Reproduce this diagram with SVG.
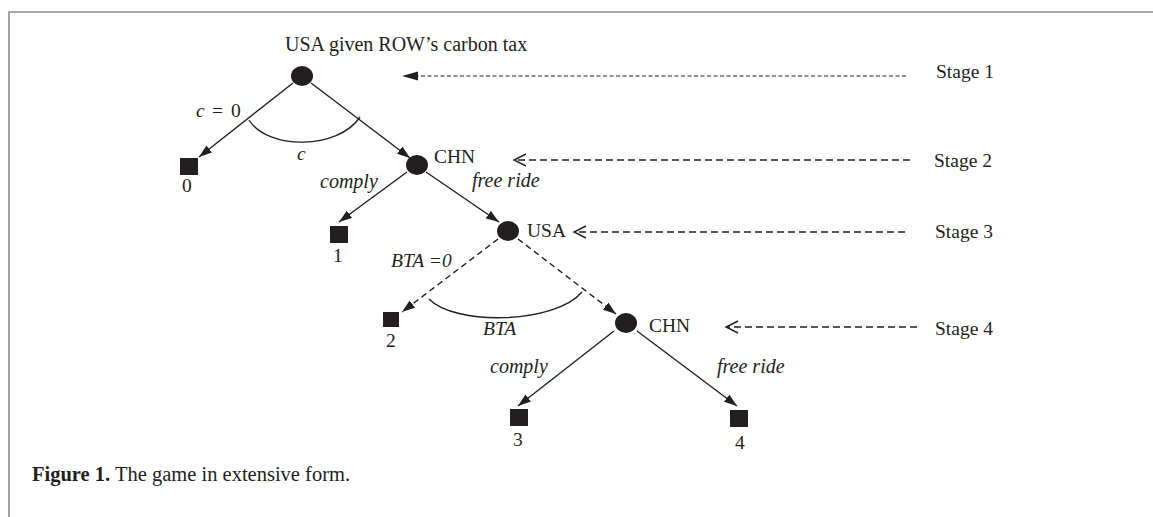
<svg xmlns="http://www.w3.org/2000/svg" width="1153" height="517" viewBox="0 0 1153 517">
<style>
.t{font-family:"Liberation Serif","Times New Roman",serif;font-size:19.5px;fill:#231f20}
.i{font-style:italic}
.e{stroke:#231f20;stroke-width:1.4;fill:none}
.d{stroke-dasharray:6 4}
.s1{stroke:#231f20;stroke-width:1;stroke-dasharray:4 2.5;fill:none}
.s2{stroke:#231f20;stroke-width:1.3;stroke-dasharray:7 4;fill:none}
.n{fill:#231f20}
.cap{font-family:"Liberation Serif","Times New Roman",serif;font-size:20.5px;fill:#231f20}
</style>
<defs>
<marker id="ah" markerUnits="userSpaceOnUse" markerWidth="14" markerHeight="10" refX="13" refY="5" orient="auto">
<path d="M0,0.5 L13,5 L0,9.5 z" fill="#231f20"/>
</marker>
</defs>
<rect width="1153" height="517" fill="#fff"/>
<path d="M9,517 V12 H1153" stroke="#8c8c8c" stroke-width="1.6" fill="none"/>

<g id="connectors">
<line class="e" x1="293" y1="83" x2="199" y2="157" marker-end="url(#ah)"/>
<line class="e" x1="311" y1="83" x2="410" y2="158" marker-end="url(#ah)"/>
<line class="e" x1="407" y1="172" x2="339" y2="222" marker-end="url(#ah)"/>
<line class="e" x1="426" y1="172" x2="499" y2="222" marker-end="url(#ah)"/>
<line class="e d" x1="498" y1="239" x2="402" y2="312" marker-end="url(#ah)"/>
<line class="e d" x1="518" y1="239" x2="616" y2="314" marker-end="url(#ah)"/>
<line class="e" x1="614" y1="331" x2="518" y2="406" marker-end="url(#ah)"/>
<line class="e" x1="637" y1="331" x2="737" y2="406" marker-end="url(#ah)"/>
<path class="e" d="M249,120 C268,150 338,150 360,117"/>
<path class="e" d="M429,299 C455,326 555,324 582,292"/>
</g>

<g id="stage-arrows">
<line class="s1" x1="906" y1="76" x2="414" y2="76"/>
<path d="M402,76 L418,71.5 L418,80.5 z" fill="#231f20"/>
<line class="s2" x1="910" y1="160" x2="515" y2="160"/>
<path class="e" d="M526,154 L514,160 L526,166"/>
<line class="s2" x1="905" y1="232" x2="575" y2="232"/>
<path class="e" d="M586,226 L574,232 L586,238"/>
<line class="s2" x1="917" y1="327" x2="727" y2="327"/>
<path class="e" d="M738,321 L726,327 L738,333"/>
</g>

<g id="n-root"><ellipse class="n" cx="302" cy="76" rx="11" ry="10"/><text class="t" x="285" y="51" style="font-size:20px">USA given ROW’s carbon tax</text></g>
<g id="n-chn1"><ellipse class="n" cx="417" cy="165" rx="11" ry="10"/><text class="t" x="434" y="163">CHN</text></g>
<g id="n-usa2"><ellipse class="n" cx="508" cy="231" rx="11" ry="10"/><text class="t" x="527" y="237">USA</text></g>
<g id="n-chn2"><ellipse class="n" cx="626" cy="323" rx="11" ry="10"/><text class="t" x="649" y="332">CHN</text></g>

<g id="t0"><rect class="n" x="180" y="158" width="18" height="17"/><text class="t" x="182" y="192">0</text></g>
<g id="t1"><rect class="n" x="330" y="226" width="18" height="17"/><text class="t" x="333" y="262">1</text></g>
<g id="t2"><rect class="n" x="383" y="312" width="16" height="15"/><text class="t" x="386" y="347">2</text></g>
<g id="t3"><rect class="n" x="510" y="409" width="18" height="17"/><text class="t" x="513" y="446">3</text></g>
<g id="t4"><rect class="n" x="730" y="410" width="18" height="17"/><text class="t" x="735" y="449">4</text></g>

<g id="edge-labels">
<text class="t" y="117"><tspan class="i" x="196">c</tspan><tspan x="212">=</tspan><tspan x="231">0</tspan></text>
<text class="t i" x="297" y="160">c</text>
<text class="t i" x="320" y="188" style="font-size:20px">comply</text>
<text class="t i" x="472" y="187" style="font-size:20px">free ride</text>
<text class="t i" x="391" y="267">BTA =0</text>
<text class="t i" x="483" y="335">BTA</text>
<text class="t i" x="490" y="373" style="font-size:20px">comply</text>
<text class="t i" x="717" y="373" style="font-size:20px">free ride</text>
</g>

<g id="stages">
<text class="t" x="936" y="78">Stage 1</text>
<text class="t" x="934" y="167">Stage 2</text>
<text class="t" x="935" y="238">Stage 3</text>
<text class="t" x="935" y="335">Stage 4</text>
</g>

<text class="cap" x="32" y="481"><tspan font-weight="bold">Figure 1.</tspan> The game in extensive form.</text>
</svg>
